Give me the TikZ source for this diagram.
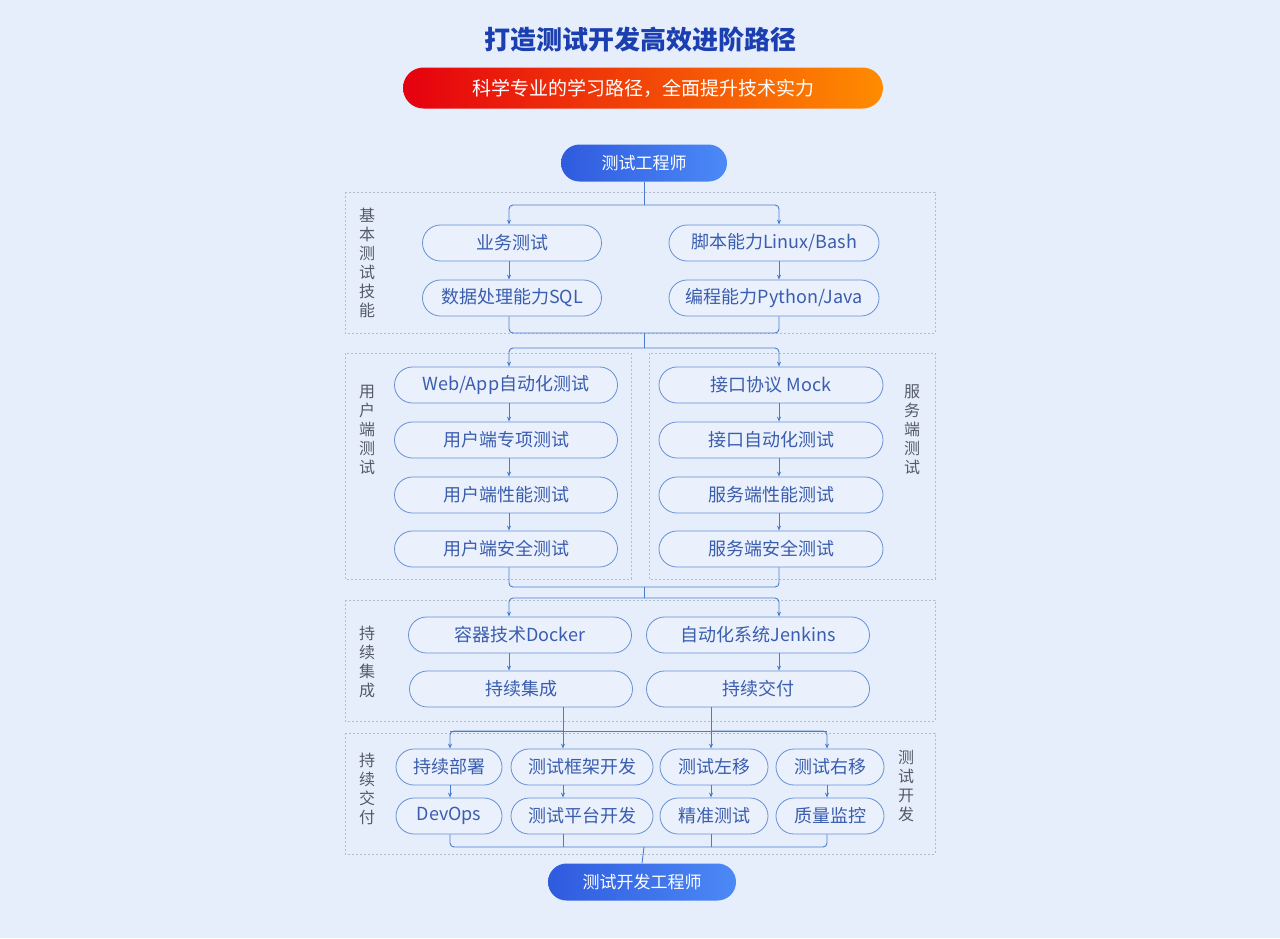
\documentclass[tikz,border=0pt]{standalone}
\usepackage{fontspec}
\setmainfont{Noto Sans CJK SC}
\usetikzlibrary{arrows.meta,calc}
\definecolor{bgc}{HTML}{E6EEFC}
\definecolor{ttl}{HTML}{1B3FB0}
\definecolor{ln}{HTML}{4A7BCF}
\definecolor{nfill}{HTML}{EAF1FD}
\definecolor{ntext}{HTML}{3A5DAE}
\definecolor{gbox}{HTML}{B4BCC8}
\definecolor{glab}{HTML}{555A66}
\definecolor{bA}{HTML}{2F5BDE}
\definecolor{bB}{HTML}{4C89F6}
\definecolor{oA}{HTML}{E5000F}
\definecolor{oB}{HTML}{FF8C00}
\begin{document}
\begin{tikzpicture}[x=1pt,y=-1pt,
 pill/.style={draw=ln!85,fill=nfill,rounded corners=18pt,minimum height=36pt,text=ntext,font=\fontsize{18}{18}\selectfont,inner sep=0pt,line width=0.8pt},
 endpill/.style={rounded corners=18.5pt,minimum height=37pt,text=white,font=\fontsize{17}{17}\selectfont,left color=bA,right color=bB,inner sep=0pt},
 grp/.style={draw=gbox,dash pattern=on 2pt off 2pt,line width=0.7pt},
 vlab/.style={text=glab,font=\fontsize{16}{19}\selectfont,align=center,inner sep=0pt},
 con/.style={draw=ln,line width=0.9pt},
 arr/.style={con,-{Stealth[length=5pt,width=4pt]}}]
\fill[bgc] (0,0) rectangle (1280,938);
\useasboundingbox (0,0) rectangle (1280,938);
\node[text=ttl,font=\fontsize{26}{26}\selectfont\bfseries] (title) at (640,40) {打造测试开发高效进阶路径};
\node[left color=oA,right color=oB,rounded corners=20.5pt,minimum width=480pt,minimum height=41pt,text=white,font=\fontsize{19}{19}\selectfont] (sub) at (643,88) {科学专业的学习路径，全面提升技术实力};
\node[endpill,minimum width=166pt] (start) at (644,163) {测试工程师};
% groups
\draw[grp] (345,192) rectangle (935,333);
\draw[grp] (345,353) rectangle (631,579);
\draw[grp] (649,353) rectangle (935,579);
\draw[grp] (345,600) rectangle (935,721);
\draw[grp] (345,733) rectangle (935,854);
\node[vlab] (l1) at (367,263) {基\\本\\测\\试\\技\\能};
\node[vlab] (l2) at (367,430) {用\\户\\端\\测\\试};
\node[vlab] (l3) at (912,430) {服\\务\\端\\测\\试};
\node[vlab] (l4) at (367,662) {持\\续\\集\\成};
\node[vlab] (l5) at (367,789) {持\\续\\交\\付};
\node[vlab] (l6) at (906,786) {测\\试\\开\\发};
% section 1
\node[pill,minimum width=179pt] (a1) at (512,243) {业务测试};
\node[pill,minimum width=179pt] (a2) at (512,298) {数据处理能力SQL};
\node[pill,minimum width=210pt] (b1) at (774,243) {脚本能力Linux/Bash};
\node[pill,minimum width=210pt] (b2) at (774,298) {编程能力Python/Java};
% section 2
\foreach \n/\y/\t in {c1/385/{Web/App自动化测试},c2/440/用户端专项测试,c3/495/用户端性能测试,c4/549/用户端安全测试}
  \node[pill,minimum width=223pt] (\n) at (506,\y) {\t};
\foreach \n/\y/\t in {d1/385/接口协议 Mock,d2/440/接口自动化测试,d3/495/服务端性能测试,d4/549/服务端安全测试}
  \node[pill,minimum width=224pt] (\n) at (771,\y) {\t};
% section 3
\node[pill,minimum width=223pt] (e1) at (520,635) {容器技术Docker};
\node[pill,minimum width=223pt] (e2) at (521,689) {持续集成};
\node[pill,minimum width=223pt] (f1) at (758,635) {自动化系统Jenkins};
\node[pill,minimum width=223pt] (f2) at (758,689) {持续交付};
% section 4
\node[pill,minimum width=106pt] (g1) at (449,767) {持续部署};
\node[pill,minimum width=106pt] (g2) at (449,816) {DevOps};
\node[pill,minimum width=142pt] (h1) at (582,767) {测试框架开发};
\node[pill,minimum width=142pt] (h2) at (582,816) {测试平台开发};
\node[pill,minimum width=108pt] (i1) at (714,767) {测试左移};
\node[pill,minimum width=108pt] (i2) at (714,816) {精准测试};
\node[pill,minimum width=108pt] (j1) at (830,767) {测试右移};
\node[pill,minimum width=108pt] (j2) at (830,816) {质量监控};
\node[endpill,minimum width=188pt] (fin) at (642,882) {测试开发工程师};
% connectors section 1
\draw[con] (start.south) -- (644,205);
\draw[arr,rounded corners=4pt] (644,205) -| (a1.north-|509,0);
\draw[arr,rounded corners=4pt] (644,205) -| (b1.north-|779,0);
\draw[arr] (a1.south-|509,0) -- (a2.north-|509,0);
\draw[arr] (b1.south-|779,0) -- (b2.north-|779,0);
\draw[con,rounded corners=4pt] (a2.south-|509,0) |- (644,333) -| (b2.south-|779,0);
\draw[con] (644,333) -- (644,348);
\draw[arr,rounded corners=4pt] (644,348) -| (c1.north-|509,0);
\draw[arr,rounded corners=4pt] (644,348) -| (d1.north-|779,0);
% section 2
\foreach \p/\q in {c1/c2,c2/c3,c3/c4}
  \draw[arr] (\p.south-|509,0) -- (\q.north-|509,0);
\foreach \p/\q in {d1/d2,d2/d3,d3/d4}
  \draw[arr] (\p.south-|779,0) -- (\q.north-|779,0);
\draw[con,rounded corners=4pt] (c4.south-|509,0) |- (644,587) -| (d4.south-|779,0);
\draw[con] (644,587) -- (644,598);
\draw[arr,rounded corners=4pt] (644,598) -| (e1.north-|509,0);
\draw[arr,rounded corners=4pt] (644,598) -| (f1.north-|779,0);
% section 3
\draw[arr] (e1.south-|509,0) -- (e2.north-|509,0);
\draw[arr] (f1.south-|779,0) -- (f2.north-|779,0);
\draw[arr] (e2.south-|563,0) -- (h1.north-|563,0);
\draw[arr] (f2.south-|711,0) -- (i1.north-|711,0);
\draw[con] (450,731) -- (827,731);
\draw[arr,rounded corners=4pt] (563,731) -| (g1.north-|450,0);
\draw[arr,rounded corners=4pt] (711,731) -| (j1.north-|827,0);
% section 4
\draw[arr] (g1.south-|450,0) -- (g2.north-|450,0);
\draw[arr] (h1.south-|563,0) -- (h2.north-|563,0);
\draw[arr] (i1.south-|711,0) -- (i2.north-|711,0);
\draw[arr] (j1.south-|827,0) -- (j2.north-|827,0);
\draw[con,rounded corners=4pt] (g2.south-|450,0) |- (644,847) -| (j2.south-|827,0);
\draw[con] (h2.south-|563,0) -- (563,847);
\draw[con] (i2.south-|711,0) -- (711,847);
\draw[con] (644,847) -- (fin.north);
\end{tikzpicture}
\end{document}
